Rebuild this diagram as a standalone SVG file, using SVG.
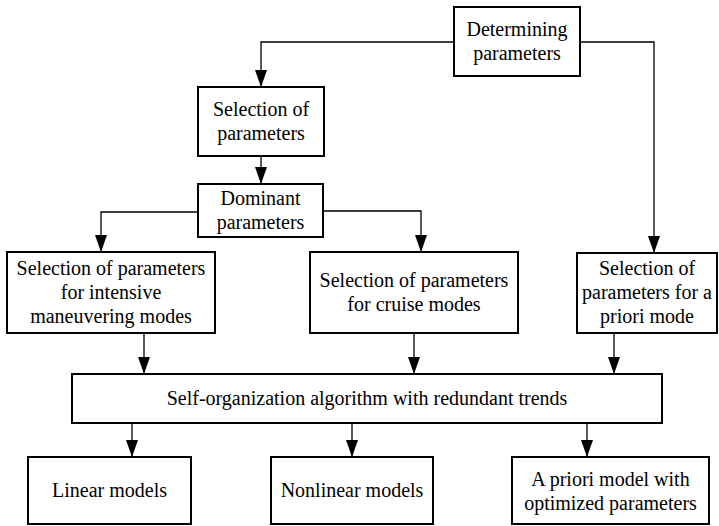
<svg xmlns="http://www.w3.org/2000/svg" width="719" height="526" viewBox="0 0 719 526">
<style>
.box{fill:#fff;stroke:#000;stroke-width:2}
.con{fill:none;stroke:#000;stroke-width:1.3}
</style>
<defs>
<marker id="arr" markerUnits="userSpaceOnUse" markerWidth="17" markerHeight="12" viewBox="0 0 17 12" refX="17" refY="6" orient="auto">
<path d="M0,0 L17,6 L0,12 Z" fill="#000"/>
</marker>
</defs>
<rect width="719" height="526" fill="#fff"/>
<g id="connectors">
<polyline class="con" points="454,42 261,42 261,87" marker-end="url(#arr)"/>
<polyline class="con" points="580,42 654,42 654,253" marker-end="url(#arr)"/>
<polyline class="con" points="261,156 261,184" marker-end="url(#arr)"/>
<polyline class="con" points="198,212 101,212 101,252" marker-end="url(#arr)"/>
<polyline class="con" points="323,211 421,211 421,252" marker-end="url(#arr)"/>
<polyline class="con" points="144,333 144,374" marker-end="url(#arr)"/>
<polyline class="con" points="414,333 414,374" marker-end="url(#arr)"/>
<polyline class="con" points="614,333 614,374" marker-end="url(#arr)"/>
<polyline class="con" points="132,423 132,457" marker-end="url(#arr)"/>
<polyline class="con" points="352,423 352,457" marker-end="url(#arr)"/>
<polyline class="con" points="587,423 587,457" marker-end="url(#arr)"/>
</g>
<g font-family="Liberation Serif, Times New Roman, serif" font-size="20" fill="#000" text-anchor="middle">
<g id="determining">
<rect class="box" x="454" y="7" width="126" height="69"/>
<text x="517" y="36">Determining</text>
<text x="517" y="60">parameters</text>
</g>
<g id="selection">
<rect class="box" x="198" y="87" width="126" height="69"/>
<text x="261" y="115.5">Selection of</text>
<text x="261" y="139.5">parameters</text>
</g>
<g id="dominant">
<rect class="box" x="198" y="184" width="125" height="53"/>
<text x="260.5" y="204.5">Dominant</text>
<text x="260.5" y="228.5">parameters</text>
</g>
<g id="intensive">
<rect class="box" x="7" y="252" width="208" height="81"/>
<text x="111" y="275">Selection of parameters</text>
<text x="111" y="299">for intensive</text>
<text x="111" y="323">maneuvering modes</text>
</g>
<g id="cruise">
<rect class="box" x="310" y="252" width="208" height="81"/>
<text x="414" y="286.5">Selection of parameters</text>
<text x="414" y="310.5">for cruise modes</text>
</g>
<g id="apriori-sel">
<rect class="box" x="577" y="253" width="140" height="80"/>
<text x="647" y="275">Selection of</text>
<text x="647" y="299">parameters for a</text>
<text x="647" y="323">priori mode</text>
</g>
<g id="selforg">
<rect class="box" x="72" y="374" width="590" height="49"/>
<text x="367" y="404.5">Self-organization algorithm with redundant trends</text>
</g>
<g id="linear">
<rect class="box" x="28" y="457" width="163" height="67"/>
<text x="109.5" y="497">Linear models</text>
</g>
<g id="nonlinear">
<rect class="box" x="271" y="457" width="162" height="67"/>
<text x="352" y="497">Nonlinear models</text>
</g>
<g id="apriori-model">
<rect class="box" x="512" y="457" width="197" height="67"/>
<text x="610.5" y="485.5">A priori model with</text>
<text x="610.5" y="509.5">optimized parameters</text>
</g>
</g>
</svg>
